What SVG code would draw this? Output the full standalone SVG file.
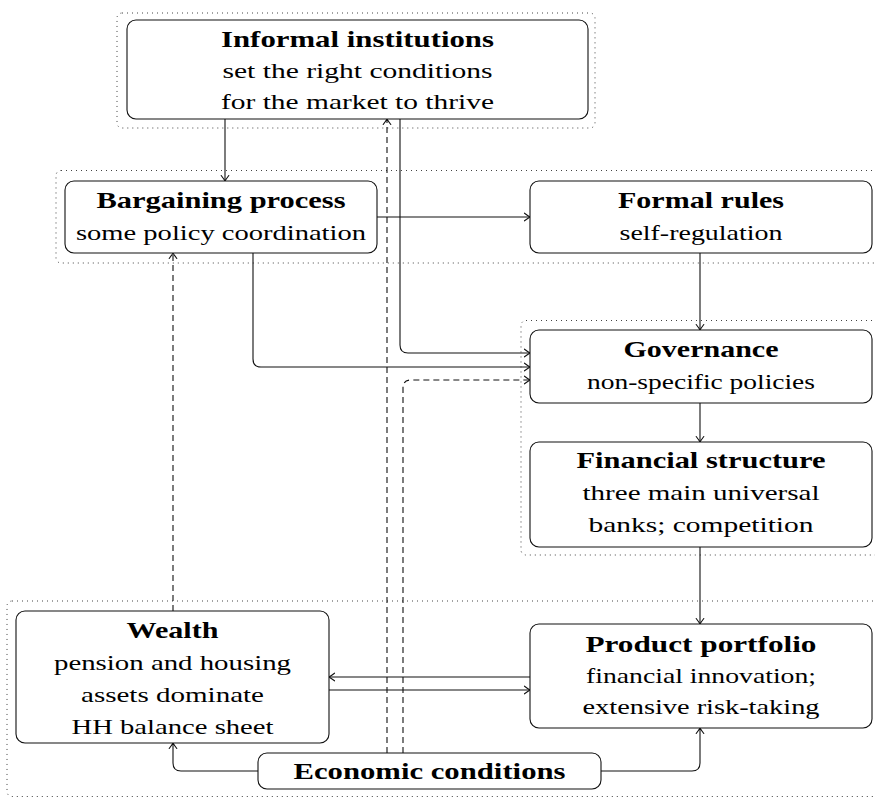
<svg xmlns="http://www.w3.org/2000/svg" width="875" height="798" viewBox="0 0 875 798">
  <style>
    .frame { fill: none; stroke: #444; stroke-width: 1; stroke-dasharray: 1 4; }
    .box { fill: #fff; stroke: #111; stroke-width: 1.1; }
    .t { font-family: "Liberation Serif", "Times New Roman", serif; font-size: 21px; fill: #000; text-anchor: middle; }
    .b { font-weight: bold; font-size: 23px; }
    .edge { fill: none; stroke: #111; stroke-width: 1.1; marker-end: url(#arr); }
    .dash { stroke-dasharray: 6 4; }
  </style>
  <defs>
    <marker id="arr" viewBox="-7 -5 8 10" refX="0" refY="0" markerWidth="8" markerHeight="10" markerUnits="userSpaceOnUse" orient="auto" overflow="visible">
      <path d="M-5.5,-3.8 Q-1.8,-1 0,0 Q-1.8,1 -5.5,3.8" fill="none" stroke="#111" stroke-width="1.1" stroke-dasharray="none" stroke-linecap="round"/>
    </marker>
  </defs>

  <!-- dotted grouping frames -->
  <g id="frames">
    <rect class="frame" x="117" y="13" width="478" height="115" rx="5"/>
    <rect class="frame" x="56" y="170.5" width="830" height="92.5" rx="5"/>
    <rect class="frame" x="521" y="320.5" width="365" height="234.5" rx="5"/>
    <rect class="frame" x="7" y="601" width="880" height="195.5" rx="5"/>
  </g>

  <!-- connectors -->
  <g id="connectors">
    <path class="edge" d="M225,119 V181"/>
    <path class="edge" d="M377,217 H530"/>
    <path class="edge" d="M400,119 V345 Q400,353 408,353 H530"/>
    <path class="edge" d="M253,253 V359 Q253,367 261,367 H530"/>
    <path class="edge dash" d="M403,753 V388 Q403,380 411,380 H530"/>
    <path class="edge dash" d="M387,753 V119"/>
    <path class="edge dash" d="M173,611 V253"/>
    <path class="edge" d="M700,253 V330"/>
    <path class="edge" d="M700,403 V442"/>
    <path class="edge" d="M700,547 V624"/>
    <path class="edge" d="M530,677 H329"/>
    <path class="edge" d="M329,690 H530"/>
    <path class="edge" d="M258,771 H181 Q173,771 173,763 V743"/>
    <path class="edge" d="M601,771 H692 Q700,771 700,763 V728"/>
  </g>

  <g id="informal">
    <rect class="box" x="127" y="20" width="461" height="99" rx="9"/>
    <text class="t b" x="357.5" y="47" textLength="273" lengthAdjust="spacingAndGlyphs">Informal institutions</text>
    <text class="t" x="357.5" y="78" textLength="270" lengthAdjust="spacingAndGlyphs">set the right conditions</text>
    <text class="t" x="357.5" y="109" textLength="273" lengthAdjust="spacingAndGlyphs">for the market to thrive</text>
  </g>

  <g id="bargaining">
    <rect class="box" x="65" y="181" width="312" height="72" rx="9"/>
    <text class="t b" x="221" y="208" textLength="249" lengthAdjust="spacingAndGlyphs">Bargaining process</text>
    <text class="t" x="221" y="240" textLength="290" lengthAdjust="spacingAndGlyphs">some policy coordination</text>
  </g>

  <g id="formal">
    <rect class="box" x="530" y="181" width="342" height="72" rx="9"/>
    <text class="t b" x="701" y="208" textLength="166" lengthAdjust="spacingAndGlyphs">Formal rules</text>
    <text class="t" x="701" y="240" textLength="163" lengthAdjust="spacingAndGlyphs">self-regulation</text>
  </g>

  <g id="governance">
    <rect class="box" x="530" y="330" width="342" height="73" rx="9"/>
    <text class="t b" x="701" y="357" textLength="155" lengthAdjust="spacingAndGlyphs">Governance</text>
    <text class="t" x="701" y="389" textLength="228" lengthAdjust="spacingAndGlyphs">non-specific policies</text>
  </g>

  <g id="financial">
    <rect class="box" x="530" y="442" width="342" height="105" rx="9"/>
    <text class="t b" x="701" y="468" textLength="249" lengthAdjust="spacingAndGlyphs">Financial structure</text>
    <text class="t" x="701" y="500" textLength="237" lengthAdjust="spacingAndGlyphs">three main universal</text>
    <text class="t" x="701" y="532" textLength="225" lengthAdjust="spacingAndGlyphs">banks; competition</text>
  </g>

  <g id="wealth">
    <rect class="box" x="16" y="611" width="313" height="132" rx="9"/>
    <text class="t b" x="172.5" y="638" textLength="92" lengthAdjust="spacingAndGlyphs">Wealth</text>
    <text class="t" x="172.5" y="670" textLength="237" lengthAdjust="spacingAndGlyphs">pension and housing</text>
    <text class="t" x="172.5" y="702" textLength="183" lengthAdjust="spacingAndGlyphs">assets dominate</text>
    <text class="t" x="172.5" y="734" textLength="202" lengthAdjust="spacingAndGlyphs">HH balance sheet</text>
  </g>

  <g id="product">
    <rect class="box" x="530" y="624" width="342" height="104" rx="9"/>
    <text class="t b" x="701" y="652" textLength="231" lengthAdjust="spacingAndGlyphs">Product portfolio</text>
    <text class="t" x="701" y="683" textLength="230" lengthAdjust="spacingAndGlyphs">financial innovation;</text>
    <text class="t" x="701" y="714" textLength="237" lengthAdjust="spacingAndGlyphs">extensive risk-taking</text>
  </g>

  <g id="economic">
    <rect class="box" x="258" y="753" width="343" height="36" rx="9"/>
    <text class="t b" x="429.5" y="779" textLength="272" lengthAdjust="spacingAndGlyphs">Economic conditions</text>
  </g>
</svg>
